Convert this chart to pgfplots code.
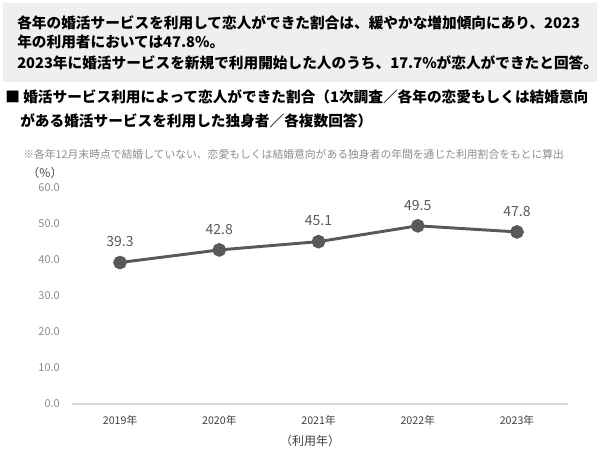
\documentclass[border=0pt]{standalone}
\usepackage{fontspec}
\setmainfont{Noto Sans CJK JP}
\usepackage{pgfplots}
\pgfplotsset{compat=1.18}
\definecolor{boxgray}{HTML}{EFEFEF}
\definecolor{linegray}{HTML}{595959}
\definecolor{tickgray}{HTML}{8C8C8C}
\definecolor{labgray}{HTML}{404040}
\definecolor{axgray}{HTML}{D9D9D9}
\begin{document}
\begin{tikzpicture}[x=0.75pt,y=0.75pt]
\path[use as bounding box] (0,0) rectangle (600,454);
\fill[boxgray] (3,451) rectangle (597,372);
\node[anchor=west,inner sep=0pt,font=\fontsize{11}{13}\selectfont\bfseries] at (17,431) {各年の婚活サービスを利用して恋人ができた割合は、緩やかな増加傾向にあり、2023};
\node[anchor=west,inner sep=0pt,font=\fontsize{11}{13}\selectfont\bfseries] at (17,412) {年の利用者においては47.8\%。};
\node[anchor=west,inner sep=0pt,font=\fontsize{11}{13}\selectfont\bfseries] at (17,391) {2023年に婚活サービスを新規で利用開始した人のうち、17.7\%が恋人ができたと回答。};
\node[anchor=west,inner sep=0pt,font=\fontsize{11}{13}\selectfont\bfseries] at (5,357) {■ 婚活サービス利用によって恋人ができた割合（1次調査／各年の恋愛もしくは結婚意向};
\node[anchor=west,inner sep=0pt,font=\fontsize{11}{13}\selectfont\bfseries] at (20,333) {がある婚活サービスを利用した独身者／各複数回答）};
\node[anchor=west,inner sep=0pt,font=\fontsize{8.1}{10}\selectfont,text=tickgray] at (23,300) {※各年12月末時点で結婚していない、恋愛もしくは結婚意向がある独身者の年間を通じた利用割合をもとに算出};
\node[inner sep=0pt,font=\fontsize{9}{11}\selectfont,text=labgray] at (45,281) {（\%）};
\node[inner sep=0pt,font=\fontsize{9}{11}\selectfont,text=labgray] at (310,13) {（利用年）};
\begin{axis}[
  at={(54pt,37.5pt)}, anchor=south west,
  scale only axis, width=372pt, height=162pt,
  xmin=-0.484, xmax=4.514, ymin=0, ymax=60,
  axis line style={draw=none},
  tick style={draw=none},
  xtick={0,1,2,3,4},
  xticklabels={2019年,2020年,2021年,2022年,2023年},
  ytick={0,10,20,30,40,50,60},
  /pgf/number format/assume math mode=true,
  yticklabel={\pgfmathprintnumber[fixed,fixed zerofill,precision=1]{\tick}},
  yticklabel style={inner sep=0pt,anchor=east,xshift=-9pt,text=tickgray,font=\fontsize{8.2}{10}\selectfont},
  xticklabel style={inner sep=0pt,anchor=center,yshift=-12pt,text=labgray,font=\fontsize{8}{10}\selectfont},
  clip=false,
  nodes near coords,
  nodes near coords style={/pgf/number format/.cd,fixed,fixed zerofill,precision=1,assume math mode=true},
  every node near coord/.style={anchor=center,yshift=15.5pt,inner sep=0pt,text=linegray,font=\fontsize{10.5}{12}\selectfont},
]
\draw[axgray,line width=1.5pt] (rel axis cs:0,0) -- (rel axis cs:1,0);
\addplot[linegray,line width=2.2pt,mark=*,mark size=4pt,mark options={fill=linegray,draw=linegray}]
  coordinates {(0,39.3) (1,42.8) (2,45.1) (3,49.5) (4,47.8)};
\end{axis}
\end{tikzpicture}
\end{document}
